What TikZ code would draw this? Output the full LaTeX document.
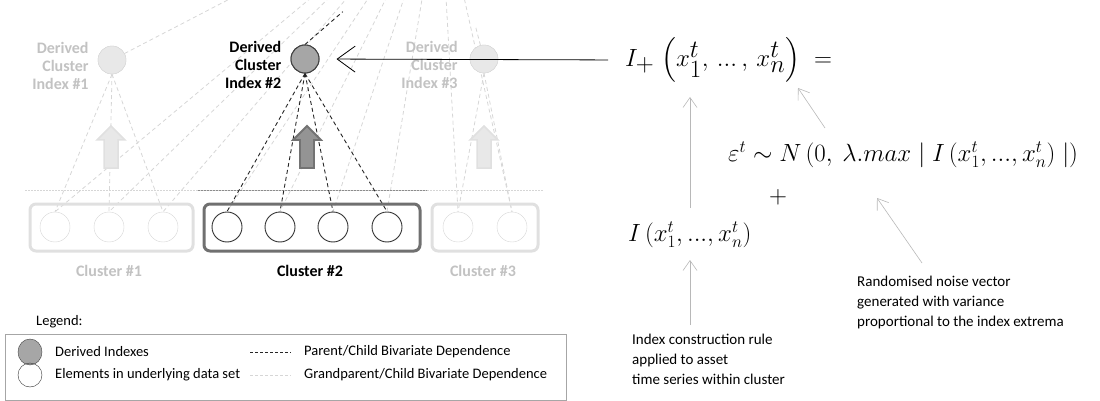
\documentclass[tikz,border=0pt]{standalone}
\usepackage{fontspec}
\setmainfont{Carlito}
\usepackage{amsmath}
\usetikzlibrary{arrows.meta,positioning,calc,shapes.geometric}
\definecolor{IdxGrey}{HTML}{A6A6A6}
\definecolor{FadeFill}{HTML}{E8E8E8}
\definecolor{FadeLine}{HTML}{D6D6D6}
\definecolor{FadeText}{HTML}{C2C2C2}
\definecolor{BoxGrey}{HTML}{707070}
\definecolor{NoteGrey}{HTML}{B8B8B8}
\tikzset{
    index/.style = {draw, circle, minimum size=28pt, inner sep=0pt},
    elem/.style = {draw, circle, minimum size=30pt, inner sep=0pt, fill=white},
    cluster/.style = {draw, rounded corners=6pt, line width=3pt},
    lbl/.style = {font=\fontsize{16}{18}\selectfont\bfseries, align=right, inner sep=0pt},
    clbl/.style = {font=\fontsize{16}{18}\selectfont\bfseries, inner sep=0pt},
    pc/.style = {dash pattern=on 4pt off 3pt, black!85, line width=0.9pt},
    gpc/.style = {dash pattern=on 4pt off 3pt, FadeLine, line width=0.8pt},
    note/.style = {font=\fontsize{15}{20}\selectfont, align=left, anchor=north west, inner sep=0pt},
    legtxt/.style = {font=\fontsize{14.5}{17}\selectfont, anchor=west, inner sep=0pt},
    notearrow/.style = {draw, NoteGrey, line width=0.6pt, -{Straight Barb[length=10pt,width=14pt]}}
}
\newcommand{\blkarrow}[2]{\draw[#2] (#1,126) -- (#1+14,140) -- (#1+7,140) -- (#1+7,168)
    -- (#1-7,168) -- (#1-7,140) -- (#1-14,140) -- cycle;}

\begin{document}
\begin{tikzpicture}[x=1pt,y=-1pt]
    \useasboundingbox (0,0) rectangle (1100,401);
    \coordinate (gp) at (440,-110);
    % element nodes
    \node[elem, draw=FadeLine] (e11) at (55,227) {};
    \node[elem, draw=FadeLine] (e12) at (109,227) {};
    \node[elem, draw=FadeLine] (e13) at (163,227) {};
    \node[elem, draw=black!80, line width=0.9pt] (e21) at (227,227) {};
    \node[elem, draw=black!80, line width=0.9pt] (e22) at (280,227) {};
    \node[elem, draw=black!80, line width=0.9pt] (e23) at (333,227) {};
    \node[elem, draw=black!80, line width=0.9pt] (e24) at (387,227) {};
    \node[elem, draw=FadeLine] (e31) at (458,227) {};
    \node[elem, draw=FadeLine] (e32) at (512,227) {};
    \node[index, fill=FadeFill, draw=FadeLine] (idx1) at (112,60) {};
    \node[index, fill=IdxGrey, draw=black!75, line width=1pt] (idx2) at (305,59) {};
    \node[index, fill=FadeFill, draw=FadeLine] (idx3) at (484,59) {};
    % grandparent / child lines
    \begin{scope}
        \clip (0,0) rectangle (1100,401);
        \draw[gpc] (gp) -- (e11.north);
        \draw[gpc] (gp) -- (e12.north);
        \draw[gpc] (gp) -- (e13.north);
        \draw[gpc] (gp) -- (e21.north);
        \draw[gpc] (gp) -- (e22.north);
        \draw[gpc] (gp) -- (e23.north);
        \draw[gpc] (gp) -- (e24.north);
        \draw[gpc] (gp) -- (e31.north);
        \draw[gpc] (gp) -- (e32.north);
        \draw[gpc] (idx1) -- ($(idx1)!0.62!(gp)$);
        \draw[gpc] (idx3) -- ($(idx3)!0.2!(gp)$);
        \draw[pc] (idx2.north) -- ($(idx2)!0.28!(gp)$);
    \end{scope}
    \draw[FadeLine, dash pattern=on 2pt off 1pt, line width=0.5pt] (25,190) -- (543,190);
    \draw[black!45, dash pattern=on 2pt off 1pt, line width=0.5pt] (198,190) -- (427,190);
    % parent / child lines
    \draw[gpc] (idx1.south) -- (e11.north);
    \draw[gpc] (idx1.south) -- (e12.north);
    \draw[gpc] (idx1.south) -- (e13.north);
    \draw[pc] (idx2.south) -- (e21.north);
    \draw[pc] (idx2.south) -- (e22.north);
    \draw[pc] (idx2.south) -- (e23.north);
    \draw[pc] (idx2.south) -- (e24.north);
    \draw[gpc] (idx3.south) -- (e31.north);
    \draw[gpc] (idx3.south) -- (e32.north);
    % redraw circles on top
    \node[index, fill=FadeFill, draw=FadeLine] at (idx1) {};
    \node[index, fill=IdxGrey, draw=black!75, line width=1pt] at (idx2) {};
    \node[index, fill=FadeFill, draw=FadeLine] at (idx3) {};
    \node[lbl, text=FadeText, left=9pt of idx1, yshift=-6pt] (lbl1) {Derived\\Cluster\\Index \#1};
    \node[lbl, text=black, left=9pt of idx2, yshift=-6pt] (lbl2) {Derived\\Cluster\\Index \#2};
    \node[lbl, text=FadeText, left=12pt of idx3, yshift=-6pt] (lbl3) {Derived\\Cluster\\Index \#3};
    \blkarrow{111}{fill=FadeFill, draw=black!12, line width=1.5pt}
    \blkarrow{307}{fill=black!42, draw=black!55, line width=1.8pt}
    \blkarrow{484}{fill=FadeFill, draw=black!12, line width=1.5pt}
    % clusters
    \draw[cluster, draw=black!12] (30,204) rectangle (193,251);
    \draw[cluster, draw=BoxGrey] (204,204) rectangle (420,251);
    \draw[cluster, draw=black!12] (432,204) rectangle (538,251);
    \node[clbl, text=FadeText] (cl1) at (109,271) {Cluster \#1};
    \node[clbl, text=black] (cl2) at (310,271) {Cluster \#2};
    \node[clbl, text=FadeText] (cl3) at (483,271) {Cluster \#3};
    % formulae
    \node[anchor=west, inner sep=0pt, font=\fontsize{36}{42}\selectfont] (fplus) at (625,60)
        {$I_+\;\Bigl(x_1^t,\,...\,,\,x_n^t\Bigr)\;=$};
    \node[anchor=west, inner sep=0pt, font=\fontsize{25}{30}\selectfont] (feps) at (728,155)
        {$\varepsilon^t \sim N\left(0,\ \lambda.max \mid I\left(x_1^t,...,x_n^t\right) \mid\right)$};
    \node[inner sep=0pt, font=\fontsize{24}{28}\selectfont] (fadd) at (778,197) {$+$};
    \node[anchor=west, inner sep=0pt, font=\fontsize{24}{28}\selectfont] (fidx) at (628,235)
        {$I\left(x_1^t,...,x_n^t\right)$};
    \draw[line width=0.8pt, -{Straight Barb[length=18pt,width=26pt]}, shorten <=17pt, shorten >=17pt] (fplus.west) -- (idx2.east);
    % notes
    \node[note] (nidx) at (632,334) {Index construction rule\\applied to asset\\time series within cluster};
    \node[note] (nnoise) at (857,276) {Randomised noise vector\\generated with variance\\proportional to the index extrema};
    \coordinate (nidxtop) at (690,325);
    \coordinate (nnoisetop) at (922,263);
    \coordinate (fidxtop) at (690,260);
    \coordinate (fidxbot) at (690,208);
    \coordinate (fplustop) at (690,97);
    \coordinate (fepstop) at (825,128);
    \coordinate (fxn) at (798,88);
    \coordinate (fepsbot) at (877,198);
    \draw[notearrow] (nidxtop) -- (fidxtop);
    \draw[notearrow] (fidxbot) -- (fplustop);
    \draw[notearrow] (fepstop) -- (fxn);
    \draw[notearrow] (nnoisetop) -- (fepsbot);
    % legend
    \node[legtxt] (legend) at (36,322) {Legend:};
    \draw[black!35] (5,334) rectangle (566,400);
    \node[draw=black!75, fill=IdxGrey, ellipse, minimum width=24pt, minimum height=26pt, inner sep=0pt] (legidx) at (30,352) {};
    \node[draw=black!80, circle, minimum size=24pt, inner sep=0pt] (legelem) at (30,375) {};
    \node[legtxt] (legidxtxt) at (55,352) {Derived Indexes};
    \node[legtxt] (legelemtxt) at (55,375) {Elements in underlying  data set};
    \coordinate (legpc) at (250,352);
    \coordinate (leggpc) at (250,375);
    \draw[pc, line width=0.6pt, dash pattern=on 3pt off 2pt] (legpc) -- ++(41,0);
    \draw[gpc, line width=0.6pt, dash pattern=on 3pt off 2pt] (leggpc) -- ++(41,0);
    \node[legtxt] (legpctxt) at (304,352) {Parent/Child  Bivariate Dependence};
    \node[legtxt] (leggpctxt) at (304,375) {Grandparent/Child  Bivariate Dependence};
\end{tikzpicture}
\end{document}
